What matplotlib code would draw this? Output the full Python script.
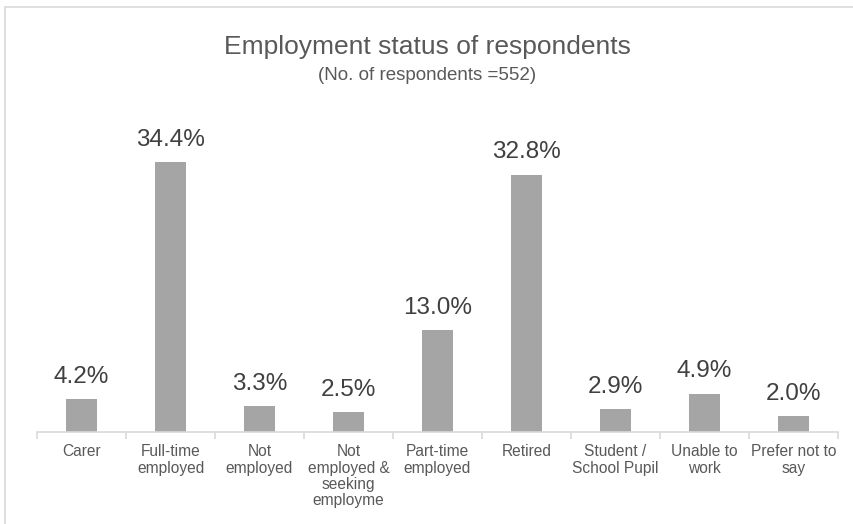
import matplotlib
matplotlib.use("Agg")
import matplotlib.pyplot as plt
from matplotlib.patches import Rectangle
import numpy as np

plt.rcParams['font.family'] = ['Liberation Sans', 'DejaVu Sans']

categories = ["Carer", "Full-time\nemployed", "Not\nemployed",
              "Not\nemployed &\nseeking\nemployme", "Part-time\nemployed",
              "Retired", "Student /\nSchool Pupil", "Unable to\nwork",
              "Prefer not to\nsay"]
shares = [4.2, 34.4, 3.3, 2.5, 13.0, 32.8, 2.9, 4.9, 2.0]

text_col = "#595959"
label_col = "#404040"
grid_col = "#D9D9D9"
bar_col = "#A5A5A5"

fig = plt.figure(figsize=(8.54, 5.24), dpi=100)
fig.patches.append(Rectangle((5 / 854, -0.1), 1.1, 1 - 7 / 524 + 0.1,
                             transform=fig.transFigure, fill=False,
                             edgecolor=grid_col, linewidth=1.2))

ax = fig.add_axes([37 / 854, 1 - 432 / 524, (838 - 37) / 854, 314 / 524])
x = np.arange(len(categories))
bars = ax.bar(x, shares, width=0.34, color=bar_col)
for b, v in zip(bars, shares):
    ax.annotate(f"{v:.1f}%", (b.get_x() + b.get_width() / 2, v),
                xytext=(0, 8), textcoords="offset points",
                ha="center", va="bottom", fontsize=17.5, color=label_col)

ax.set_xlim(-0.5, len(categories) - 0.5)
ax.set_ylim(0, 40)
ax.set_yticks([])
for s in ["top", "right", "left"]:
    ax.spines[s].set_visible(False)
ax.spines["bottom"].set_color(grid_col)
ax.spines["bottom"].set_linewidth(1.2)

ax.set_xticks(x)
ax.set_xticklabels(categories, fontsize=11.2, color=text_col, linespacing=1.1,
                   va="top")
ax.tick_params(axis="x", which="major", length=0, pad=9)
ax.set_xticks(np.arange(-0.5, len(categories)), minor=True)
ax.tick_params(axis="x", which="minor", length=5, color=grid_col, width=1.2)

fig.text(0.5, 1 - 47 / 524, "Employment status of respondents",
         ha="center", va="center", fontsize=19, color=text_col)
fig.text(0.5, 1 - 75 / 524, "(No. of respondents =552)",
         ha="center", va="center", fontsize=13.5, color=text_col)

fig.savefig("out.png", dpi=100, facecolor="white")
